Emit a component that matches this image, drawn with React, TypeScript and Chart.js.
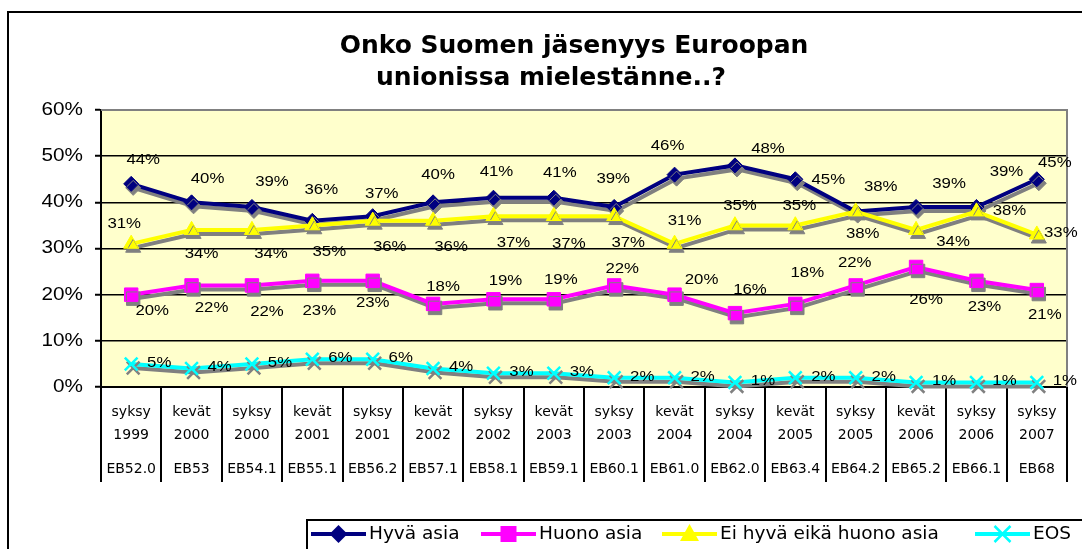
import React, { useEffect, useRef } from 'react';
import { Chart, registerables } from 'chart.js';

Chart.register(...registerables);

// ---- data ----
const seasons = ['syksy', 'kevät', 'syksy', 'kevät', 'syksy', 'kevät', 'syksy', 'kevät', 'syksy', 'kevät', 'syksy', 'kevät', 'syksy', 'kevät', 'syksy', 'syksy'];
const years = ['1999', '2000', '2000', '2001', '2001', '2002', '2002', '2003', '2003', '2004', '2004', '2005', '2005', '2006', '2006', '2007'];
const surveys = ['EB52.0', 'EB53', 'EB54.1', 'EB55.1', 'EB56.2', 'EB57.1', 'EB58.1', 'EB59.1', 'EB60.1', 'EB61.0', 'EB62.0', 'EB63.4', 'EB64.2', 'EB65.2', 'EB66.1', 'EB68'];
const hyva = [44, 40, 39, 36, 37, 40, 41, 41, 39, 46, 48, 45, 38, 39, 39, 45];
const huono = [20, 22, 22, 23, 23, 18, 19, 19, 22, 20, 16, 18, 22, 26, 23, 21];
const eiKumpikaan = [31, 34, 34, 35, 36, 36, 37, 37, 37, 31, 35, 35, 38, 34, 38, 33];
const eos = [5, 4, 5, 6, 6, 4, 3, 3, 2, 2, 1, 2, 2, 1, 1, 1];
const seriesNames = ['Hyvä asia', 'Huono asia', 'Ei hyvä eikä huono asia', 'EOS'];
const yTickValues = [0, 10, 20, 30, 40, 50, 60];
const titleLines = ['Onko Suomen jäsenyys Euroopan', 'unionissa mielestänne..?'];

// ---- label placement (offsets of each data label from its point, in px) ----
const offHyva = [[12, -24], [16, -23], [20, -25], [9, -31], [9, -22], [5, -27], [3, -26], [6, -25], [-1, -28], [-7, -28], [33, -16], [33, 1], [25, -24], [33, -23], [30, -35], [18, -16]];
const offHuono = [[21, 16], [20, 23], [15, 27], [7, 30], [0, 22], [10, -17], [12, -18], [7, -19], [8, -16], [27, -15], [15, -23], [12, -31], [-1, -22], [10, 33], [8, 26], [8, 25]];
const offEi = [[-7, -20], [10, 24], [19, 24], [17, 27], [17, 26], [18, 26], [20, 27], [15, 28], [14, 27], [10, -23], [5, -19], [4, -19], [7, 23], [37, 12], [33, 0], [24, -2]];
const offEos = Array.from({ length: 16 }, () => [28, -1]);
const labelOffsets = [offHyva, offHuono, offEi, offEos];

const colors = ['#000080', '#FF00FF', '#FFFF00', '#00FFFF'];
const markerStyles = ['rectRot', 'rect', 'triangle', 'crossRot'];

function drawStretched(ctx: CanvasRenderingContext2D, text: string, x: number, y: number, font: string, sx: number, align: CanvasTextAlign) {
  ctx.save();
  ctx.translate(x, y);
  ctx.scale(sx, 1);
  ctx.font = font;
  ctx.textAlign = align;
  ctx.textBaseline = 'middle';
  ctx.fillStyle = '#000';
  ctx.fillText(text, 0, 0);
  ctx.restore();
}

function drawMarker(ctx: CanvasRenderingContext2D, style: string, x: number, y: number, r: number, color: string) {
  ctx.save();
  ctx.fillStyle = color;
  ctx.strokeStyle = color;
  ctx.beginPath();
  if (style === 'rectRot') {
    ctx.moveTo(x, y - r); ctx.lineTo(x + r, y); ctx.lineTo(x, y + r); ctx.lineTo(x - r, y); ctx.closePath(); ctx.fill();
  } else if (style === 'rect') {
    ctx.rect(x - r, y - r, 2 * r, 2 * r); ctx.fill();
  } else if (style === 'triangle') {
    ctx.moveTo(x, y - r); ctx.lineTo(x + r * 0.95, y + r * 0.7); ctx.lineTo(x - r * 0.95, y + r * 0.7); ctx.closePath(); ctx.fill();
  } else {
    ctx.lineWidth = 2.5;
    ctx.moveTo(x - r, y - r); ctx.lineTo(x + r, y + r); ctx.moveTo(x + r, y - r); ctx.lineTo(x - r, y + r); ctx.stroke();
  }
  ctx.restore();
}

const LABEL_FONT = '14px "Liberation Sans", Arial, sans-serif';
const AXIS_FONT = '14px "DejaVu Sans", Verdana, sans-serif';

const framePlugin = {
  id: 'frame',
  beforeDraw(chart: any) {
    const { ctx, chartArea: a } = chart;
    ctx.save();
    ctx.fillStyle = '#fff';
    ctx.fillRect(0, 0, chart.width, chart.height);
    ctx.fillStyle = '#FFFFCC';
    ctx.fillRect(a.left, a.top, a.right - a.left, a.bottom - a.top);
    ctx.restore();
  },
  beforeDatasetsDraw(chart: any) {
    const { ctx, chartArea: a } = chart;
    ctx.save();
    ctx.strokeStyle = '#808080';
    ctx.lineWidth = 2;
    ctx.beginPath();
    ctx.moveTo(a.left, a.top);
    ctx.lineTo(a.right, a.top);
    ctx.lineTo(a.right, a.bottom);
    ctx.stroke();
    ctx.restore();
  },
};

const shadowPlugin = {
  id: 'shadow',
  beforeDatasetDraw(chart: any) {
    const c = chart.ctx;
    c.save();
    c.shadowColor = '#808080';
    c.shadowOffsetX = 2;
    c.shadowOffsetY = 4;
    c.shadowBlur = 0;
  },
  afterDatasetDraw(chart: any) {
    chart.ctx.restore();
  },
};

const decorPlugin = {
  id: 'decor',
  afterDraw(chart: any) {
    const { ctx } = chart;
    const xs = chart.scales.x;
    const ys = chart.scales.y;

    // outer chart border
    ctx.save();
    ctx.strokeStyle = '#000';
    ctx.lineWidth = 2;
    ctx.strokeRect(8, 12, 1200, 700);
    ctx.restore();

    // title
    ctx.save();
    ctx.fillStyle = '#000';
    ctx.font = 'bold 25px "DejaVu Sans", Verdana, sans-serif';
    ctx.textAlign = 'center';
    ctx.textBaseline = 'alphabetic';
    ctx.fillText(titleLines[0], 574, 53);
    ctx.fillText(titleLines[1], 551, 85);
    ctx.restore();

    // y tick labels
    yTickValues.forEach((v) => {
      drawStretched(ctx, v + '%', 83, ys.getPixelForValue(v), '18px "Liberation Sans", Arial, sans-serif', 1.15, 'right');
    });

    // x tick labels (three rows)
    ctx.save();
    ctx.font = AXIS_FONT;
    ctx.fillStyle = '#000';
    ctx.textAlign = 'center';
    ctx.textBaseline = 'middle';
    surveys.forEach((s, i) => {
      const x = xs.getPixelForValue(i);
      ctx.fillText(seasons[i], x, 412);
      ctx.fillText(years[i], x, 435);
      ctx.fillText(s, x, 469);
    });
    ctx.restore();

    // data labels
    chart.data.datasets.forEach((ds: any, di: number) => {
      const meta = chart.getDatasetMeta(di);
      meta.data.forEach((el: any, i: number) => {
        const [dx, dy] = labelOffsets[di][i];
        drawStretched(ctx, ds.data[i] + '%', el.x + dx, el.y + dy, LABEL_FONT, 1.2, 'center');
      });
    });

    // legend
    ctx.save();
    ctx.strokeStyle = '#000';
    ctx.lineWidth = 2;
    ctx.strokeRect(307, 520, 900, 100);
    const itemX = [311, 481, 662, 975];
    const markerR = [9, 8, 10, 8];
    const ly = 534;
    chart.data.datasets.forEach((ds: any, di: number) => {
      const x0 = itemX[di];
      ctx.strokeStyle = colors[di];
      ctx.lineWidth = 4;
      ctx.beginPath();
      ctx.moveTo(x0, ly);
      ctx.lineTo(x0 + 55, ly);
      ctx.stroke();
      drawMarker(ctx, markerStyles[di], x0 + 27.5, ly, markerR[di], colors[di]);
      ctx.fillStyle = '#000';
      ctx.font = '18.5px "DejaVu Sans", Verdana, sans-serif';
      ctx.textAlign = 'left';
      ctx.textBaseline = 'middle';
      ctx.fillText(ds.label, x0 + 58, ly);
    });
    ctx.restore();
  },
};

export default function App() {
  const ref = useRef<HTMLCanvasElement | null>(null);

  useEffect(() => {
    if (!ref.current) return;
    const seriesData = [hyva, huono, eiKumpikaan, eos];
    const radii = [7.5, 9.5, 8.7, 9];
    const chart = new Chart(ref.current, {
      type: 'line',
      data: {
        labels: surveys,
        datasets: seriesData.map((d, i) => ({
          label: seriesNames[i],
          data: d,
          borderColor: colors[i],
          backgroundColor: colors[i],
          borderWidth: 4,
          pointStyle: markerStyles[i] as any,
          pointRadius: radii[i],
          pointBorderWidth: i === 3 ? 2.5 : 1,
          pointBackgroundColor: colors[i],
          pointBorderColor: colors[i],
          tension: 0,
          clip: false as any,
          order: 4 - i,
        })),
      },
      options: {
        animation: false,
        responsive: false,
        layout: { padding: { left: 0, right: 15, top: 110, bottom: 0 } },
        plugins: {
          legend: { display: false },
          title: { display: false },
          tooltip: { enabled: false },
        },
        scales: {
          x: {
            type: 'category',
            offset: true,
            grid: {
              offset: true,
              drawOnChartArea: false,
              drawTicks: true,
              tickLength: 95,
              color: '#000',
              lineWidth: 2,
            },
            border: { color: '#000', width: 2 },
            ticks: { display: false },
            afterFit: (s: any) => { s.height = 162; },
          },
          y: {
            min: 0,
            max: 60,
            ticks: { display: false, stepSize: 10 },
            grid: {
              color: '#000',
              lineWidth: 1.5,
              tickLength: 6,
              tickColor: '#000',
              tickWidth: 2,
            },
            border: { color: '#000', width: 2 },
            afterFit: (s: any) => { s.width = 101; },
          },
        },
      },
      plugins: [framePlugin, shadowPlugin, decorPlugin],
    } as any);
    return () => chart.destroy();
  }, []);

  return (
    <div style={{ position: 'absolute', left: 0, top: 0, width: 1082, height: 549 }}>
      <canvas ref={ref} width={1082} height={549} style={{ display: 'block' }} />
    </div>
  );
}
